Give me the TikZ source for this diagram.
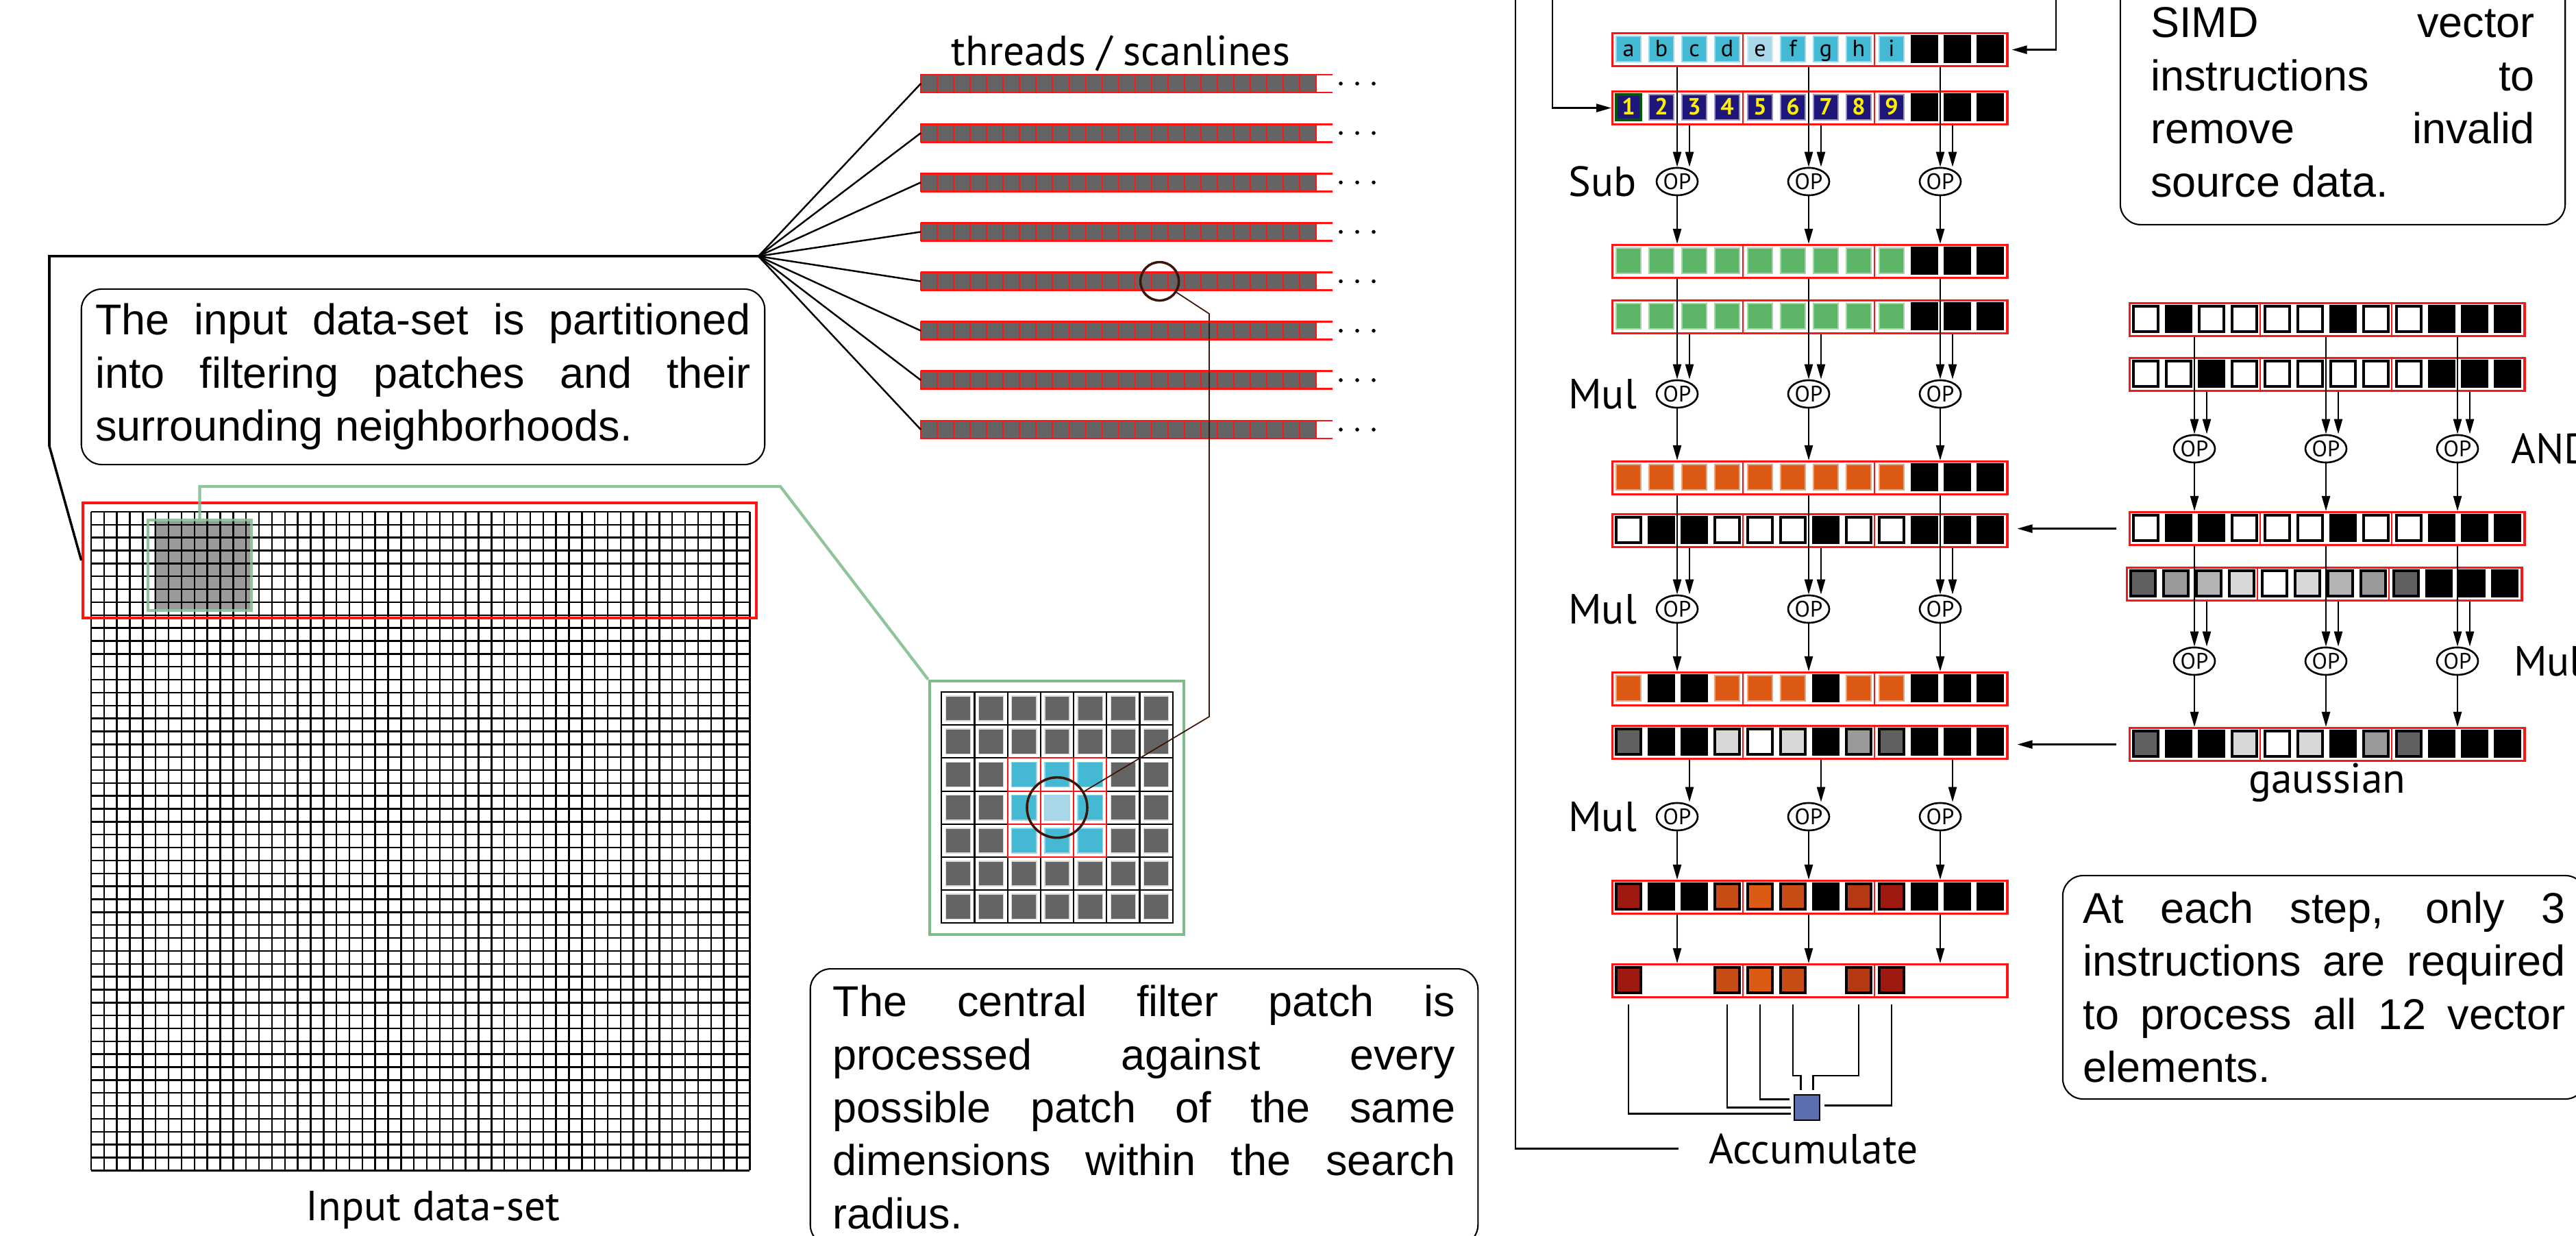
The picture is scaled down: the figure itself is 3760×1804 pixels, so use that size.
\documentclass[tikz,border=0pt]{standalone}
\usepackage{fontspec}
\setmainfont{Liberation Sans}
\newfontfamily\fuenteEtiq{PT Sans}
\usetikzlibrary{arrows.meta, positioning, shapes.geometric, calc}
\definecolor{rojoMarco}{HTML}{FF1414}
\definecolor{grisHilo}{HTML}{646464}
\definecolor{grisParche}{HTML}{9A9A9A}
\definecolor{verdeParche}{HTML}{7DBB8A}
\definecolor{marronCirc}{HTML}{3C1408}
\definecolor{cianCelda}{HTML}{45B8D4}
\definecolor{cianClaro}{HTML}{A8D8E8}
\definecolor{azulIndice}{HTML}{1E1678}
\definecolor{amarilloIndice}{HTML}{FFF000}
\definecolor{verdeCelda}{HTML}{5CB566}
\definecolor{naranjaCelda}{HTML}{DD5A14}
\definecolor{grisOscuro}{HTML}{606060}
\definecolor{grisMedio}{HTML}{9A9A9A}
\definecolor{grisBajo}{HTML}{B4B4B4}
\definecolor{grisClaro}{HTML}{D8D8D8}
\definecolor{rojoOscuro}{HTML}{9E1A10}
\definecolor{rojoTeja}{HTML}{C84C16}
\definecolor{rojoLadrillo}{HTML}{B53A14}
\definecolor{azulAcum}{HTML}{5A6EB0}
\newcommand{\fuenteNota}{\fontsize{17.9}{22}\selectfont\tolerance=10000\hbadness=10000}
\newcommand{\fuenteEt}{\fuenteEtiq\fontsize{17.5}{20}\selectfont}
\newcommand{\fuenteOp}{\fuenteEtiq\fontsize{9.3}{10}\selectfont}
\newcommand{\fuenteCelda}{\fuenteEtiq\fontsize{9.7}{10}\selectfont}
\tikzset{
  celda/.style={rectangle, inner sep=0pt, minimum width=0.36cm, minimum height=0.37cm},
  cCian/.style={fill=cianCelda, draw=cianCelda!55!white, line width=0.6pt},
  cClaro/.style={fill=cianClaro, draw=cianClaro!55!white, line width=0.6pt},
  cIndice/.style={fill=azulIndice, draw=azulIndice!45!white, line width=0.6pt},
  cIndiceUno/.style={fill=azulIndice, draw=green!35!black, line width=0.9pt},
  cVerde/.style={fill=verdeCelda, draw=verdeCelda!55!white, line width=0.6pt},
  cNaranja/.style={fill=naranjaCelda, draw=naranjaCelda!55!white, line width=0.6pt},
  cNegro/.style={fill=black, draw=black, line width=1pt},
  cBlanco/.style={fill=white, draw=black, line width=1.1pt},
  cGrisO/.style={fill=grisOscuro, draw=black, line width=1pt},
  cGrisM/.style={fill=grisMedio, draw=black, line width=1pt},
  cGrisB/.style={fill=grisBajo, draw=black, line width=1pt},
  cGrisC/.style={fill=grisClaro, draw=black, line width=1pt},
  cRojoO/.style={fill=rojoOscuro, draw=black, line width=1pt},
  cRojoT/.style={fill=rojoTeja, draw=black, line width=1pt},
  cRojoL/.style={fill=rojoLadrillo, draw=black, line width=1pt},
  cNaranjaN/.style={fill=naranjaCelda, draw=black, line width=1pt},
  cVacia/.style={draw=none, fill=none},
  marcoVec/.style={rectangle, draw=rojoMarco, line width=0.9pt, anchor=north west,
    minimum width=5.76cm, minimum height=0.48cm, inner sep=0pt},
  divRojo/.style={draw=rojoMarco, line width=0.5pt},
  letraCelda/.style={font=\fuenteCelda, inner sep=0pt, anchor=base, yshift=-0.115cm},
  numCelda/.style={font=\fuenteCelda\bfseries, text=amarilloIndice, inner sep=0pt,
    anchor=base, yshift=-0.115cm},
  nodoOp/.style={ellipse, draw, line width=0.75pt, fill=white, inner sep=0pt,
    minimum width=0.6cm, minimum height=0.4cm, font=\fuenteOp},
  flecha/.style={-{Triangle[length=2.2mm, width=1.2mm]}, line width=0.65pt},
  linea/.style={line width=0.65pt},
  lineaNegra/.style={line width=1pt},
  lineaAbanico/.style={line width=0.7pt},
  lineaMarron/.style={draw=marronCirc, line width=0.5pt},
  circMarron/.style={circle, draw=marronCirc, line width=1pt, inner sep=0pt},
  lineaVerde/.style={draw=verdeParche, draw opacity=0.85, line width=1.2pt},
  lineaRejilla/.style={line width=0.7pt},
  hilo/.style={rectangle, anchor=west, minimum width=6.01cm, minimum height=0.26cm, inner sep=0pt},
  celdaHilo/.style={fill=grisHilo, draw=rojoMarco, line width=0.5pt},
  bordeHilo/.style={draw=rojoMarco, line width=0.8pt},
  celdaZoom/.style={fill=white, draw=black, line width=0.6pt},
  interiorGris/.style={fill=grisHilo, draw=grisClaro, line width=0.4pt},
  interiorCian/.style={fill=cianCelda, draw=cianCelda!55!white, line width=0.4pt},
  bordeCentro/.style={draw=rojoMarco, line width=0.6pt},
  cajaNota/.style={draw, line width=0.6pt, rounded corners=0.3cm, align=justify, font=\fuenteNota},
  etiqueta/.style={font=\fuenteEt, inner sep=0pt},
  acumulador/.style={rectangle, draw, fill=azulAcum, line width=0.7pt, minimum size=0.37cm, inner sep=0pt},
}
% one SIMD register of 12 lanes: name, left x, top y, lane styles
\newcommand{\filaVec}[4]{%
  \foreach \estilo [count=\j from 0] in {#4}
    \node[celda, \estilo] (#1-\j) at (#2+25+48*\j, #3+24.5) {};
  \node[marcoVec] (#1) at (#2,#3) {};
  \draw[divRojo] (#2+192,#3) -- ++(0,48) (#2+384,#3) -- ++(0,48);
}
\begin{document}
\begin{tikzpicture}[x=0.01cm, y=-0.01cm]
  \fill[white] (0,0) rectangle (3760,1804);
  \useasboundingbox (0,0) rectangle (3760,1804);

  % input data-set
  \fill[grisParche] (225,761) rectangle (365,889);
  \foreach \k in {0,...,51} {
    \draw[lineaRejilla] (133+18.85*\k,747) -- ++(0,961.35);
    \draw[lineaRejilla] (133,747+18.85*\k) -- ++(961.35,0);
  }
  \node[rectangle, draw=rojoMarco, line width=1.15pt, minimum width=9.83cm,
    minimum height=1.68cm, inner sep=0pt] (franjaRoja) at (612.5,818) {};
  \node[rectangle, draw=verdeParche, draw opacity=0.85, line width=1.2pt, minimum width=1.51cm,
    minimum height=1.32cm, inner sep=0pt] (parcheVerde) at (291.5,825) {};
  \node[etiqueta, anchor=base] (etEntrada) at (632,1781) {Input data-set};

  \node[cajaNota, text width=9.56cm, inner xsep=0.205cm, minimum height=2.56cm] (notaEntrada)
    at (617.5,550) {The input data-set is partitioned\linebreak into filtering patches and their\linebreak surrounding neighborhoods.};

  % threads / scanlines
  \coordinate (abanico) at (1107,374);
  \node[etiqueta, anchor=base] (etHilos) at (1636,96) {threads / scanlines};
  \foreach \i in {0,...,7} {
    \pgfmathsetmacro{\yc}{122+72.14*\i}
    \node[hilo] (hilo\i) at (1344,\yc) {};
    \foreach \k in {0,...,23}
      \draw[celdaHilo] (1344+24.04*\k,\yc-13) rectangle ++(24.04,26);
    \draw[bordeHilo] (1344,\yc-13) -- ++(601,0) (1344,\yc+13) -- ++(601,0);
    \foreach \d in {0,1,2}
      \fill (1957+24*\d,\yc) circle (0.028cm);
    \draw[lineaAbanico] (abanico) -- (hilo\i.west);
  }
  \coordinate (esqA) at (72,374);
  \coordinate (esqB) at (72,651);
  \draw[lineaNegra] (abanico) -- (esqA) -- (esqB) -- (franjaRoja.west);

  % filter patch and its neighbourhood
  \node[rectangle, draw=verdeParche, line width=1.2pt, minimum width=3.71cm,
    minimum height=3.70cm, inner sep=0pt] (zoomParche) at (1542.5,1179) {};
  \foreach \r in {0,...,6}
    \foreach \colu in {0,...,6} {
      \draw[celdaZoom] (1374.3+48.2*\colu,1010+48.2*\r) rectangle ++(48.2,48.2);
      \draw[interiorGris] (1380.3+48.2*\colu,1016+48.2*\r) rectangle ++(36.2,36.2);
    }
  \foreach \r in {2,3,4}
    \foreach \colu in {2,3,4} {
      \draw[interiorCian] (1380.3+48.2*\colu,1016+48.2*\r) rectangle ++(36.2,36.2);
      \draw[bordeCentro] (1374.3+48.2*\colu,1010+48.2*\r) rectangle ++(48.2,48.2);
    }
  \fill[cianClaro] (1380.3+48.2*3,1016+48.2*3) rectangle ++(36.2,36.2);
  \node[circMarron, minimum size=0.88cm] (circParche) at (1543,1178.7) {};
  \node[circMarron, minimum size=0.56cm] (circHilo) at (1692.6,410.6) {};
  \coordinate (codoV) at (1139,710);
  \draw[lineaVerde] (parcheVerde.north) |- (codoV) -- (zoomParche.north west);
  \coordinate (codoA) at (1765,1046);
  \coordinate (codoB) at (1765,458);
  \draw[lineaMarron] (circParche) -- (codoA) -- (codoB) -- (circHilo);

  \node[cajaNota, text width=9.08cm, inner xsep=0.33cm, inner ysep=0.24cm, anchor=north] (notaCentral)
    at (1670,1413) {The central filter patch is\linebreak processed against every\linebreak possible patch of the same\linebreak dimensions within the search\linebreak radius.};

  % SIMD registers, left column
  \filaVec{vAbc}{2352}{47}{cCian,cCian,cCian,cCian,cClaro,cCian,cCian,cCian,cCian,cNegro,cNegro,cNegro}
  \filaVec{vIdx}{2352}{132}{cIndiceUno,cIndice,cIndice,cIndice,cIndice,cIndice,cIndice,cIndice,cIndice,cNegro,cNegro,cNegro}
  \filaVec{vV1}{2352}{356}{cVerde,cVerde,cVerde,cVerde,cVerde,cVerde,cVerde,cVerde,cVerde,cNegro,cNegro,cNegro}
  \filaVec{vV2}{2352}{437}{cVerde,cVerde,cVerde,cVerde,cVerde,cVerde,cVerde,cVerde,cVerde,cNegro,cNegro,cNegro}
  \filaVec{vO1}{2352}{672}{cNaranja,cNaranja,cNaranja,cNaranja,cNaranja,cNaranja,cNaranja,cNaranja,cNaranja,cNegro,cNegro,cNegro}
  \filaVec{vM}{2352}{749}{cBlanco,cNegro,cNegro,cBlanco,cBlanco,cBlanco,cNegro,cBlanco,cBlanco,cNegro,cNegro,cNegro}
  \filaVec{vO2}{2352}{980}{cNaranja,cNegro,cNegro,cNaranja,cNaranja,cNaranja,cNegro,cNaranja,cNaranja,cNegro,cNegro,cNegro}
  \filaVec{vG}{2352}{1058}{cGrisO,cNegro,cNegro,cGrisC,cBlanco,cGrisC,cNegro,cGrisM,cGrisO,cNegro,cNegro,cNegro}
  \filaVec{vR}{2352}{1284}{cRojoO,cNegro,cNegro,cRojoT,cNaranjaN,cRojoT,cNegro,cRojoL,cRojoO,cNegro,cNegro,cNegro}
  \filaVec{vFin}{2352}{1406}{cRojoO,cVacia,cVacia,cRojoT,cNaranjaN,cRojoT,cVacia,cRojoL,cRojoO,cVacia,cVacia,cVacia}
  \foreach \t [count=\j from 0] in {a,...,i}
    \node[letraCelda] at (vAbc-\j) {\t};
  \foreach \t [count=\j from 0] in {1,...,9}
    \node[numCelda] at (vIdx-\j) {\t};

  % SIMD registers, right column
  \filaVec{vR1}{3107}{441}{cBlanco,cNegro,cBlanco,cBlanco,cBlanco,cBlanco,cNegro,cBlanco,cBlanco,cNegro,cNegro,cNegro}
  \filaVec{vR2}{3107}{521}{cBlanco,cBlanco,cNegro,cBlanco,cBlanco,cBlanco,cBlanco,cBlanco,cBlanco,cNegro,cNegro,cNegro}
  \filaVec{vR3}{3107}{746}{cBlanco,cNegro,cNegro,cBlanco,cBlanco,cBlanco,cNegro,cBlanco,cBlanco,cNegro,cNegro,cNegro}
  \filaVec{vR4}{3103}{827}{cGrisO,cGrisM,cGrisB,cGrisC,cBlanco,cGrisC,cGrisB,cGrisM,cGrisO,cNegro,cNegro,cNegro}
  \filaVec{vR5}{3107}{1061}{cGrisO,cNegro,cNegro,cGrisC,cBlanco,cGrisC,cNegro,cGrisM,cGrisO,cNegro,cNegro,cNegro}
  \node[etiqueta, anchor=base] (etGauss) at (3397,1158) {gaussian};

  % operations
  \foreach \g in {0,1,2} {
    \node[nodoOp] (opS\g) at (2448+192*\g,265) {OP};
    \node[nodoOp] (opMa\g) at (2448+192*\g,575) {OP};
    \node[nodoOp] (opMb\g) at (2448+192*\g,889) {OP};
    \node[nodoOp] (opMc\g) at (2448+192*\g,1192) {OP};
    \node[nodoOp] (opY\g) at (3203+192*\g,655) {OP};
    \node[nodoOp] (opMd\g) at (3203+192*\g,965) {OP};

    \draw[flecha] (vAbc.south -| opS\g) -- (opS\g);
    \draw[flecha] ($(vIdx.south -| opS\g)+(18,0)$) -- ($(opS\g.north)+(18,0)$);
    \draw[flecha] (opS\g) -- (vV1.north -| opS\g);

    \draw[flecha] (vV1.south -| opMa\g) -- (opMa\g);
    \draw[flecha] ($(vV2.south -| opMa\g)+(18,0)$) -- ($(opMa\g.north)+(18,0)$);
    \draw[flecha] (opMa\g) -- (vO1.north -| opMa\g);

    \draw[flecha] (vO1.south -| opMb\g) -- (opMb\g);
    \draw[flecha] ($(vM.south -| opMb\g)+(18,0)$) -- ($(opMb\g.north)+(18,0)$);
    \draw[flecha] (opMb\g) -- (vO2.north -| opMb\g);

    \draw[flecha] ($(vG.south -| opMc\g)+(18,0)$) -- ($(opMc\g.north)+(18,0)$);
    \draw[flecha] (opMc\g) -- (vR.north -| opMc\g);
    \draw[flecha] (vR.south -| opMc\g) -- (vFin.north -| opMc\g);

    \draw[flecha] (vR1.south -| opY\g) -- (opY\g);
    \draw[flecha] ($(vR2.south -| opY\g)+(18,0)$) -- ($(opY\g.north)+(18,0)$);
    \draw[flecha] (opY\g) -- (vR3.north -| opY\g);

    \draw[flecha] (vR3.south -| opMd\g) -- (opMd\g);
    \draw[flecha] ($(vR4.south -| opMd\g)+(18,0)$) -- ($(opMd\g.north)+(18,0)$);
    \draw[flecha] (opMd\g) -- (vR5.north -| opMd\g);
  }
  \node[etiqueta, left=0.27cm of opS0] (etSub) {Sub};
  \node[etiqueta, left=0.27cm of opMa0] (etMulA) {Mul};
  \node[etiqueta, left=0.27cm of opMb0] (etMulB) {Mul};
  \node[etiqueta, left=0.27cm of opMc0] (etMulC) {Mul};
  \node[etiqueta, right=0.46cm of opY2] (etAnd) {AND};
  \node[etiqueta, right=0.5cm of opMd2] (etMulD) {Mul};

  \draw[flecha, shorten <=0.18cm, shorten >=0.13cm] (vR3.west) -- (vR3.west -| vM.east);
  \draw[flecha, shorten <=0.18cm, shorten >=0.13cm] (vR5.west) -- (vR5.west -| vG.east);

  % loads coming from above
  \coordinate (cimaA) at (2212,-5);
  \coordinate (cimaB) at (2266,-5);
  \coordinate (cimaC) at (3001,-5);
  \draw[flecha] (cimaB) |- (vIdx.west);
  \draw[flecha, shorten >=0.05cm] (cimaC) |- (vAbc.east);

  % accumulation
  \node[acumulador] (acum) at (2637.5,1616.5) {};
  \node[etiqueta, anchor=base] (etAcum) at (2647,1698) {Accumulate};
  \draw[linea] (cimaA) |- ([xshift=-0.44cm]etAcum.west);
  \draw[linea] ($(vFin.south -| vFin-0)+(0,9)$) |- ($(acum.west)+(-4,9)$);
  \draw[linea] ($(vFin.south -| vFin-3)+(0,9)$) |- ($(acum.west)+(-4,0)$);
  \draw[linea] ($(vFin.south -| vFin-4)+(0,9)$) |- ($(acum.west)+(-6,-12)$);
  \draw[linea] ($(vFin.south -| vFin-5)+(0,9)$) |- ($(acum.north)+(-9,-27)$) -- ($(acum.north)+(-9,-6)$);
  \draw[linea] ($(vFin.south -| vFin-7)+(0,9)$) |- ($(acum.north)+(9,-27)$) -- ($(acum.north)+(9,-6)$);
  \draw[linea] ($(vFin.south -| vFin-8)+(0,9)$) |- ($(acum.east)+(6,-3)$);

  \node[cajaNota, text width=5.6cm, inner xsep=0.445cm, minimum height=3.57cm, anchor=south] (notaSimd)
    at (3419.5,329) {SIMD vector\linebreak instructions to\linebreak remove invalid\linebreak source data.};
  \node[cajaNota, text width=7.03cm, inner xsep=0.3cm, minimum height=3.26cm] (notaPaso)
    at (3392.5,1441) {At each step, only 3\linebreak instructions are required\linebreak to process all 12 vector\linebreak elements.};
\end{tikzpicture}
\end{document}
